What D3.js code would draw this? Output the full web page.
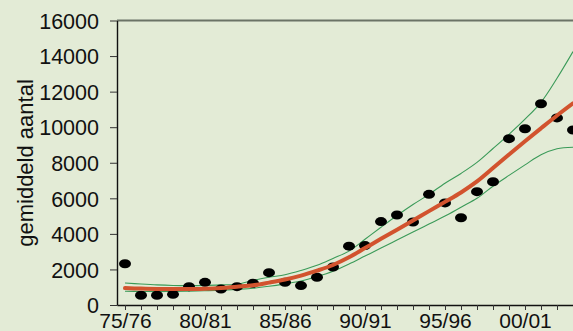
<!DOCTYPE html>
<html>
<head>
<meta charset="utf-8">
<script src="https://cdn.jsdelivr.net/npm/d3@7"></script>
<style>
  html, body { margin: 0; padding: 0; background: #e3ebd6; }
  svg { display: block; }
  text { font-family: "Liberation Sans", Arial, sans-serif; fill: #111; }
</style>
</head>
<body>
<svg id="chart" width="573" height="331"></svg>
<script>
// Seasons (one per year)
const seasons = ["75/76","76/77","77/78","78/79","79/80","80/81","81/82","82/83","83/84","84/85",
                 "85/86","86/87","87/88","88/89","89/90","90/91","91/92","92/93","93/94","94/95",
                 "95/96","96/97","97/98","98/99","99/00","00/01","01/02","02/03","03/04"];
const labelledSeasons = ["75/76","80/81","85/86","90/91","95/96","00/01"];
const yTicks = [0, 2000, 4000, 6000, 8000, 10000, 12000, 14000, 16000];

// Observed yearly averages (dots)
const observed = [2320, 550, 550, 600, 1030, 1275, 900, 1030, 1220, 1820,
                  1275, 1090, 1560, 2140, 3310, 3340, 4690, 5060, 4670, 6225,
                  5740, 4910, 6375, 6930, 9355, 9915, 11320, 10520, 9840];
// Smoothed trend (red)
const trend = [950, 925, 905, 900, 905, 920, 960, 1030, 1110, 1260,
               1430, 1650, 1930, 2250, 2680, 3200, 3720, 4230, 4750, 5280,
               5800, 6330, 6950, 7700, 8460, 9210, 9940, 10660, 11345];
// Upper confidence limit (green)
const upper = [1240, 1180, 1130, 1100, 1090, 1100, 1130, 1170, 1380, 1560,
               1700, 1940, 2230, 2620, 3030, 3700, 4370, 5030, 5650, 6220,
               6850, 7400, 8020, 8800, 9600, 10450, 11400, 12750, 14250];
// Lower confidence limit (green)
const lower = [770, 760, 755, 760, 775, 800, 830, 880, 940, 1050,
               1190, 1350, 1600, 1900, 2300, 2750, 3200, 3650, 4100, 4550,
               5000, 5500, 6000, 6680, 7290, 7880, 8450, 8790, 8870];

const svg = d3.select("#chart");
const W = 573, H = 331;
const mLeft = 117, mTop = 20.5, mBottom = 305;

const x = d3.scaleLinear().domain([-0.5, seasons.length - 1]).range([mLeft, W]);
const y = d3.scaleLinear().domain([0, 16000]).range([mBottom, mTop]);

svg.append("rect").attr("width", W).attr("height", H).attr("fill", "#e3ebd6");

// top frame line
svg.append("line")
  .attr("x1", mLeft).attr("x2", W).attr("y1", y(16000)).attr("y2", y(16000))
  .attr("stroke", "#6b7366").attr("stroke-width", 2);

// Y axis
const yAxis = svg.append("g")
  .attr("transform", `translate(${mLeft},0)`)
  .call(d3.axisLeft(y).tickValues(yTicks).tickFormat(d3.format("d"))
        .tickSize(7).tickSizeOuter(0).tickPadding(11));
yAxis.selectAll("text").style("font-size", "21.5px").attr("dy", "0.36em");
yAxis.select(".domain").attr("stroke", "#111").attr("stroke-width", 1.4);
yAxis.selectAll(".tick line").attr("stroke", "#333");

// X axis
const xAxis = svg.append("g")
  .attr("transform", `translate(0,${mBottom})`)
  .call(d3.axisBottom(x).tickValues(d3.range(seasons.length))
        .tickFormat(i => labelledSeasons.includes(seasons[i]) ? seasons[i] : "")
        .tickSize(5).tickSizeOuter(0).tickPadding(3.5));
xAxis.selectAll("text").style("font-size", "21px");
xAxis.select(".domain").attr("stroke", "#111").attr("stroke-width", 1.4);
xAxis.selectAll(".tick line").attr("stroke", "#333");

// Y label
svg.append("text")
  .attr("transform", `translate(33,163) rotate(-90)`)
  .attr("text-anchor", "middle")
  .style("font-size", "22px")
  .text("gemiddeld aantal");

const idx = d3.range(seasons.length);
const lineGen = arr => d3.line()
  .x(i => x(i)).y(i => y(arr[i]))
  .curve(d3.curveCatmullRom.alpha(0.5))(idx);

const plot = svg.append("g");

plot.append("path").attr("d", lineGen(upper))
  .attr("fill", "none").attr("stroke", "#3a9a58").attr("stroke-width", 1.1);
plot.append("path").attr("d", lineGen(lower))
  .attr("fill", "none").attr("stroke", "#3a9a58").attr("stroke-width", 1.1);

plot.selectAll("ellipse").data(idx).enter().append("ellipse")
  .attr("cx", i => x(i)).attr("cy", i => y(observed[i]))
  .attr("rx", 6).attr("ry", 4.5).attr("fill", "#000");

plot.append("path").attr("d", lineGen(trend))
  .attr("fill", "none").attr("stroke", "#d2532e").attr("stroke-width", 4)
  .attr("stroke-linecap", "round");
</script>
</body>
</html>
